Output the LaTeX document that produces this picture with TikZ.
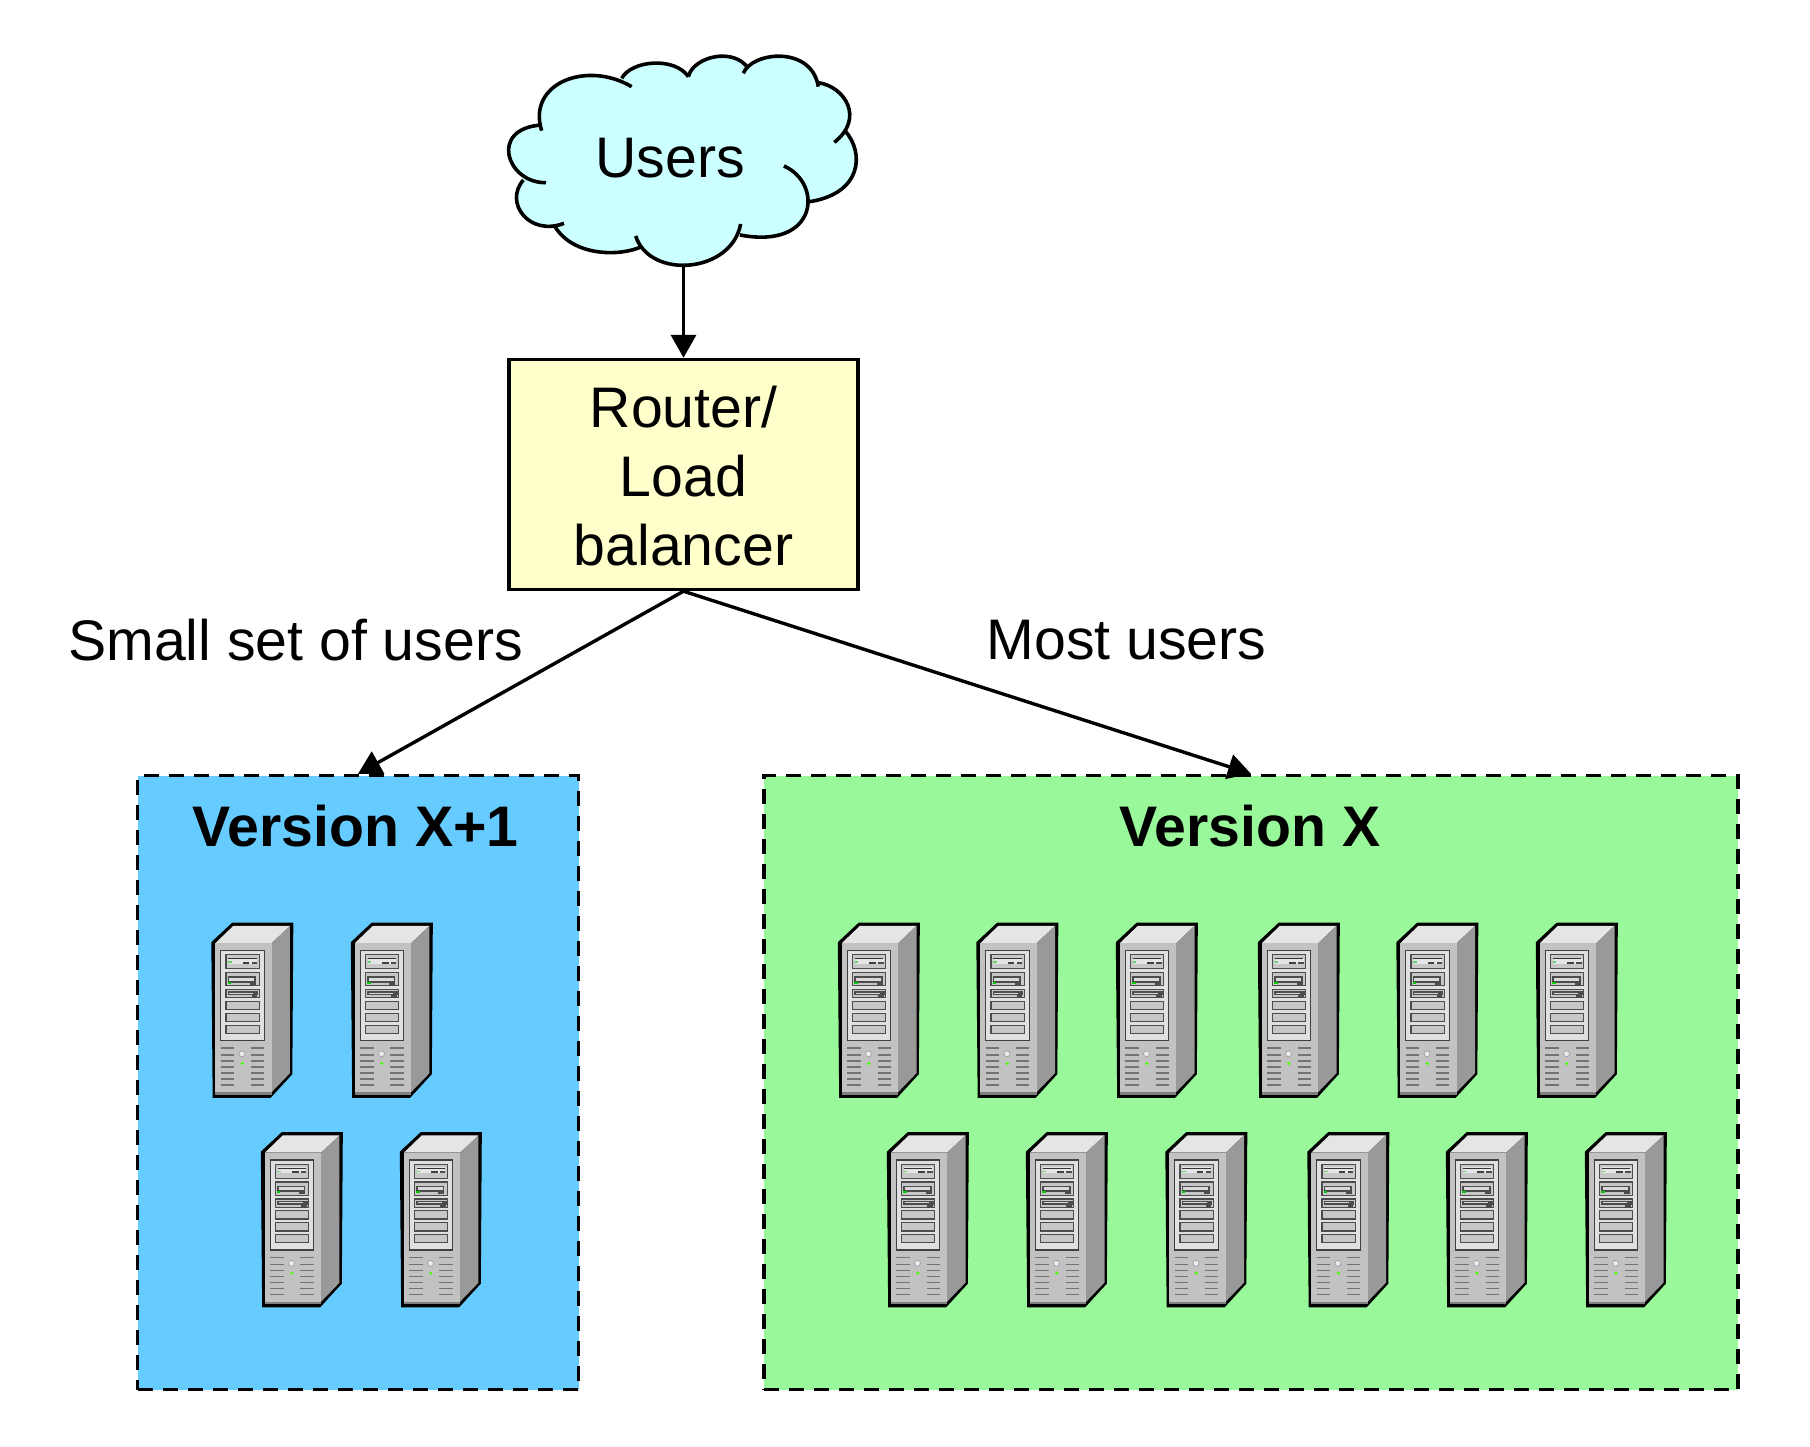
\documentclass[tikz,border=0pt]{standalone}
\usepackage{fontspec}
\setmainfont{Liberation Sans}
\usetikzlibrary{arrows.meta}

\definecolor{cloudcyan}{HTML}{CCFFFF}
\definecolor{routeryellow}{HTML}{FFFFCC}
\definecolor{newblue}{HTML}{66CCFF}
\definecolor{oldgreen}{HTML}{99F899}

\newcommand{\bigfont}{\fontsize{57.2}{69}\selectfont}
\newcommand{\cloudlobes}{155/272/110/130/290/60/425/140, 395/115/425/60/555/50/595/110,
  595/110/610/50/730/20/775/85, 760/100/785/35/965/15/985/140,
  985/128/1065/140/1125/235/1033/307, 1065/272/1125/340/1115/460/960/485,
  882/378/1000/430/985/630/750/585, 752/552/725/700/480/720/437/588,
  455/620/390/650/250/650/195/560, 222/550/120/590/40/490/100/420,
  168/428/50/430/-5/265/155/255}

\tikzset{
  conn/.style={->,line width=3.4pt},
  cloudline/.style={line width=3.6pt},
  cloudfill/.style={fill=cloudcyan,draw=cloudcyan,line width=2pt},
  routerbox/.style={draw,line width=3.4pt,fill=routeryellow,minimum width=349pt,minimum height=230pt,
    inner sep=0pt,text width=340pt,align=center,font=\bigfont},
  versionbox/.style={draw,line width=3.4pt,dash pattern=on 15pt off 10pt,minimum height=614pt,inner sep=0pt},
  versiontitle/.style={font=\bigfont\bfseries},
  edgelabel/.style={font=\bigfont},
  bay/.style={fill=black!22,draw=black!70,line width=1.2pt},
  vent/.style={draw=black!55,line width=1.5pt},
  pics/server/.style={code={
    \begin{scope}[x=0.3333pt,y=-0.3333pt]
      % case
      \fill[black,line join=round] (34,95) -- (97,36) -- (280,36) -- (277,491) -- (212,562) -- (38,562) -- cycle;
      \fill[black!10] (46,98) -- (100,46) -- (270,46) -- (215,98) -- cycle;
      \fill[black!40] (215,98) -- (270,46) -- (270,488) -- (215,545) -- cycle;
      \fill[black!24] (46,98) rectangle (215,545);
      \fill[black!50] (46,545) rectangle (215,553);
      % drive panel
      \fill[black!12,draw=black!75,line width=1.2pt] (62,120) rectangle (193,390);
      \foreach \ytop/\ybot in {133/175, 186/226, 237/262, 272/297, 308/333, 344/368}{
        \path[bay] (78,\ytop) rectangle (178,\ybot);
      }
      \fill[black!10] (84,141) rectangle (171,160);
      \draw[black!80,line width=1pt] (85,144) -- (170,144);
      \fill[black!75] (128,153) rectangle (148,160);
      \fill[black!70] (155,153) rectangle (171,160);
      \fill[green!70!black!60] (85,152) rectangle (95,156);
      \fill[black!70] (83,197) rectangle (168,216);
      \fill[black!15] (88,202) rectangle (163,210);
      \fill[black!70] (150,212) rectangle (168,222);
      \fill[green!80!black] (83,214) rectangle (93,219);
      \fill[black!70] (83,242) rectangle (175,254);
      \fill[black!15] (88,246) rectangle (160,250);
      \fill[black!70] (155,251) rectangle (172,260);
      % front vents
      \foreach \yv in {413,433,451,470,488,506,524}{
        \draw[vent] (62,\yv) -- (103,\yv);
        \draw[vent] (153,\yv) -- (193,\yv);
      }
      \fill[black!8,draw=black!40,line width=.6pt] (126,430) circle (9);
      \fill[green!70!yellow] (127,459) circle (5);
    \end{scope}
  }}
}

\begin{document}
\begin{tikzpicture}[x=1pt,y=-1pt,>={Triangle[length=23pt,width=25pt]}]
  \useasboundingbox (0,0) rectangle (1810,1446);

  % Cloud
  \begin{scope}[shift={(490,40)},x=0.3333pt,y=-0.3333pt]
    \path[cloudfill] (155,272) -- (400,118) -- (595,110) -- (772,90) -- (985,132) -- (1065,272)
      -- (960,485) -- (750,585) -- (455,620) -- (195,560) -- (100,420) -- cycle;
    \foreach \ax/\ay/\bx/\by/\cx/\cy/\dx/\dy in \cloudlobes{
      \path[cloudfill] (\ax,\ay) .. controls (\bx,\by) and (\cx,\cy) .. (\dx,\dy) -- cycle;
    }
    \foreach \ax/\ay/\bx/\by/\cx/\cy/\dx/\dy in \cloudlobes{
      \draw[cloudline] (\ax,\ay) .. controls (\bx,\by) and (\cx,\cy) .. (\dx,\dy);
    }
  \end{scope}
  \node[font=\bigfont] (users) at (670,158) {Users};
  \coordinate (cloudbottom) at (683.5,264);

  % Router and the two versions
  \node[routerbox] (router) at (683.5,474.5) {\rule{0pt}{45pt}Router/\\Load\\balancer};
  \node[versionbox,fill=newblue,minimum width=441pt] (newversion) at (358,1082.5) {};
  \node[versionbox,fill=oldgreen,minimum width=974pt] (oldversion) at (1251,1082.5) {};
  \node[versiontitle] (newtitle) at (355.5,826) {Version X+1};
  \node[versiontitle] (oldtitle) at (1250,826) {Version X};

  % Connectors
  \draw[conn] (cloudbottom) -- (router.north);
  \draw[conn] (router.south) -- (newversion.north);
  \draw[conn] (router.south) -- (oldversion.north);
  \node[edgelabel] (smalllabel) at (295.5,640.5) {Small set of users};
  \node[edgelabel] (mostlabel) at (1126.5,640.5) {Most users};

  % Servers
  \foreach \sx/\sy in {200/910.5, 339.5/910.5, 249.5/1120, 388.5/1120,
                       826.5/910.5, 965/910.5, 1104.5/910.5, 1246.5/910.5, 1385/910.5, 1524.5/910.5,
                       875.5/1120, 1014.5/1120, 1154/1120, 1296/1120, 1434.5/1120, 1573.5/1120}{
    \pic at (\sx,\sy) {server};
  }
\end{tikzpicture}
\end{document}
